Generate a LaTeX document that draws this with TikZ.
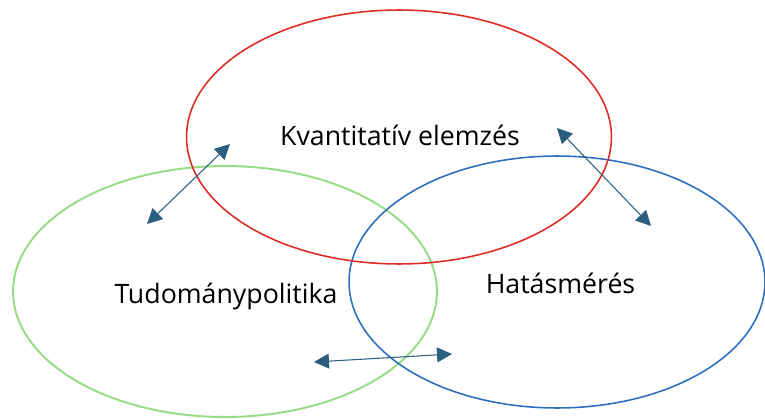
\documentclass[tikz,border=0pt]{standalone}
\usepackage{fontspec}
\setmainfont{Open Sans}
\usetikzlibrary{positioning, shapes.geometric, arrows.meta}
\definecolor{setred}{RGB}{222,44,36}
\definecolor{setgreen}{RGB}{150,220,132}
\definecolor{setblue}{RGB}{44,110,192}
\definecolor{linkblue}{RGB}{44,94,128}

\begin{document}
\begin{tikzpicture}
    [
        x=0.02cm, y=-0.02cm,
        set_node/.style={ellipse, inner sep=0pt, line width=0.9pt},
        red_set/.style={set_node, draw=setred, minimum width=8.5cm, minimum height=5.08cm},
        green_set/.style={set_node, draw=setgreen, line width=1.1pt, minimum width=8.48cm, minimum height=5.02cm},
        blue_set/.style={set_node, draw=setblue, minimum width=8.32cm, minimum height=5.04cm},
        set_label/.style={anchor=base, inner sep=0pt, font=\fontsize{15.2}{18}\selectfont},
        link/.style={draw=linkblue, line width=0.6pt, {Triangle[length=3mm, width=3mm]}-{Triangle[length=3mm, width=3mm]}},
    ]
  \useasboundingbox (0,0) rectangle (765,419);

  \node[green_set] (tudpol) at (225,291.5) {};
  \node[blue_set] (hatas) at (557,282) {};
  \node[red_set] (kvant) at (399,137) {};

  \node[set_label] (kvant_txt) at (400,145) {Kvantitatív elemzés};
  \node[set_label] (tudpol_txt) at (226,303) {Tudománypolitika};
  \node[set_label] (hatas_txt) at (560.5,293) {Hatásmérés};

  \coordinate (a1) at (147,224);
  \coordinate (a2) at (230,144);
  \coordinate (b1) at (557,128);
  \coordinate (b2) at (651,226);
  \coordinate (c1) at (314,362);
  \coordinate (c2) at (452,354);

  \draw[link] (a1) -- (a2);
  \draw[link] (b1) -- (b2);
  \draw[link] (c1) -- (c2);
\end{tikzpicture}
\end{document}
